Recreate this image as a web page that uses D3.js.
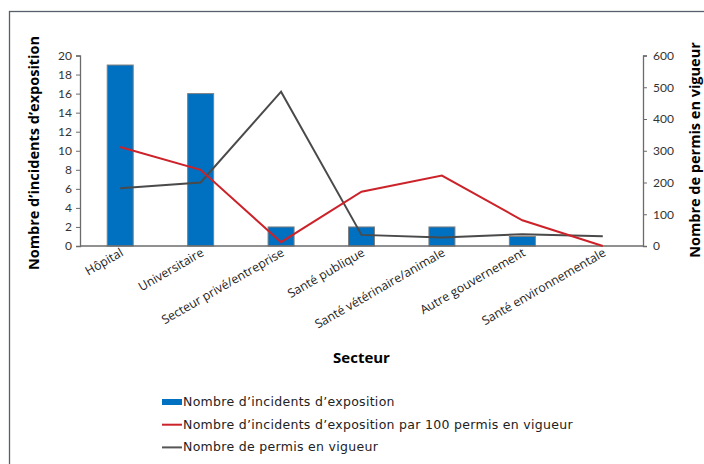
<!DOCTYPE html>
<html>
<head>
<meta charset="utf-8">
<script src="https://cdn.jsdelivr.net/npm/d3@7"></script>
<style>
  body { margin: 0; background: #fff; }
  svg { display: block; font-family: "Open Sans", Lato, sans-serif; }
</style>
</head>
<body>
<svg id="chart" width="704" height="464"></svg>
<script>
// data
var sectors = ['Hôpital', 'Universitaire', 'Secteur privé/entreprise', 'Santé publique',
               'Santé vétérinaire/animale', 'Autre gouvernement', 'Santé environnementale'];
var incidents = [19, 16, 2, 2, 2, 1, 0];
var ratePer100 = [10.4, 8.0, 0.4, 5.7, 7.4, 2.7, 0];
var permits = [182, 200, 486, 35, 27, 37, 31];
var leftTicks = [0, 2, 4, 6, 8, 10, 12, 14, 16, 18, 20];
var rightTicks = [0, 100, 200, 300, 400, 500, 600];
var legendLabels = ['Nombre d’incidents d’exposition',
                    'Nombre d’incidents d’exposition par 100 permis en vigueur',
                    'Nombre de permis en vigueur'];

var blue = '#0070c0', red = '#cc2229', grey = '#4a4a4a', axisCol = '#6b6b6b';

var svg = d3.select('#chart'),
    plotLeft = 80, plotRight = 643, plotTop = 55.5, plotBottom = 246;

// outer frame (cut off at right / bottom)
svg.append('rect')
    .attr('x', 9.5).attr('y', 11.5)
    .attr('width', 720).attr('height', 480)
    .attr('fill', 'none')
    .attr('stroke', '#56606a')
    .attr('stroke-width', 1.3);

var x = d3.scaleBand().domain(sectors).range([plotLeft, plotRight]).padding(0),
    yL = d3.scaleLinear().domain([0, 20]).range([plotBottom, plotTop]),
    yR = d3.scaleLinear().domain([0, 600]).range([plotBottom, plotTop]);

// axes
var gL = svg.append('g')
    .attr('transform', 'translate(' + plotLeft + ',0)')
    .call(d3.axisLeft(yL).tickValues(leftTicks).tickSize(4).tickPadding(4));
var gR = svg.append('g')
    .attr('transform', 'translate(' + plotRight + ',0)')
    .call(d3.axisRight(yR).tickValues(rightTicks).tickSize(4).tickPadding(6));
[gL, gR].forEach(function(g) {
    g.selectAll('.domain').attr('stroke', axisCol).attr('stroke-width', 1.3);
    g.selectAll('.tick line').attr('stroke', axisCol);
    g.selectAll('.tick text').attr('fill', '#333')
        .style('font-family', 'Lato, sans-serif').style('font-size', '12px');
});

// bars
var bw = 26;
svg.append('g').selectAll('rect').data(incidents).enter()
  .append('rect')
    .attr('x', function(d, i) { return x(sectors[i]) + x.bandwidth() / 2 - bw / 2; })
    .attr('y', function(d) { return yL(d); })
    .attr('width', bw)
    .attr('height', function(d) { return plotBottom - yL(d); })
    .attr('fill', blue)
    .attr('stroke', '#7f7f7f')
    .attr('stroke-width', 1);

// x axis line
svg.append('line')
    .attr('x1', plotLeft).attr('x2', plotRight)
    .attr('y1', plotBottom).attr('y2', plotBottom)
    .attr('stroke', axisCol).attr('stroke-width', 1.3);

// lines
var cx = function(d, i) { return x(sectors[i]) + x.bandwidth() / 2; };
svg.append('path')
    .datum(permits)
    .attr('fill', 'none')
    .attr('stroke', grey)
    .attr('stroke-width', 2)
    .attr('d', d3.line().x(cx).y(function(d) { return yR(d); }));
svg.append('path')
    .datum(ratePer100)
    .attr('fill', 'none')
    .attr('stroke', red)
    .attr('stroke-width', 2)
    .attr('d', d3.line().x(cx).y(function(d) { return yL(d); }));

// category labels
svg.append('g').selectAll('text').data(sectors).enter()
  .append('text')
    .attr('transform', function(d) {
        return 'translate(' + (x(d) + x.bandwidth() / 2 + 4) + ',' + 255 + ') rotate(-30)';
    })
    .attr('text-anchor', 'end')
    .attr('fill', '#222')
    .style('font-size', '12.3px')
    .text(function(d) { return d; });

// axis titles
svg.append('text')
    .attr('transform', 'translate(39,' + 153 + ') rotate(-90)')
    .attr('text-anchor', 'middle')
    .style('font-size', '14.5px').style('font-weight', 'bold')
    .text('Nombre d’incidents d’exposition');
svg.append('text')
    .attr('transform', 'translate(700,' + 150 + ') rotate(-90)')
    .attr('text-anchor', 'middle')
    .style('font-size', '14.5px').style('font-weight', 'bold')
    .text('Nombre de permis en vigueur');
svg.append('text')
    .attr('x', (plotLeft + plotRight) / 2).attr('y', 363)
    .attr('text-anchor', 'middle')
    .style('font-size', '15px').style('font-weight', 'bold')
    .text('Secteur');

// legend
var legend = svg.append('g').selectAll('g').data(legendLabels).enter()
  .append('g')
    .attr('transform', function(d, i) { return 'translate(162,' + (402 + i * 22.7) + ')'; });
legend.each(function(d, i) {
    var g = d3.select(this);
    if (i === 0) {
        g.append('rect').attr('x', 0).attr('y', -3).attr('width', 20).attr('height', 6)
            .attr('fill', blue);
    } else {
        g.append('line').attr('x1', 0).attr('x2', 20).attr('y1', 0).attr('y2', 0)
            .attr('stroke', i === 1 ? red : '#555').attr('stroke-width', 2);
    }
    g.append('text').attr('x', 21).attr('y', 4)
        .attr('fill', '#222')
        .style('font-family', '"DejaVu Sans", sans-serif')
        .style('font-size', '12.5px')
        .style('letter-spacing', '0.3px')
        .text(d);
});
</script>
</body>
</html>
